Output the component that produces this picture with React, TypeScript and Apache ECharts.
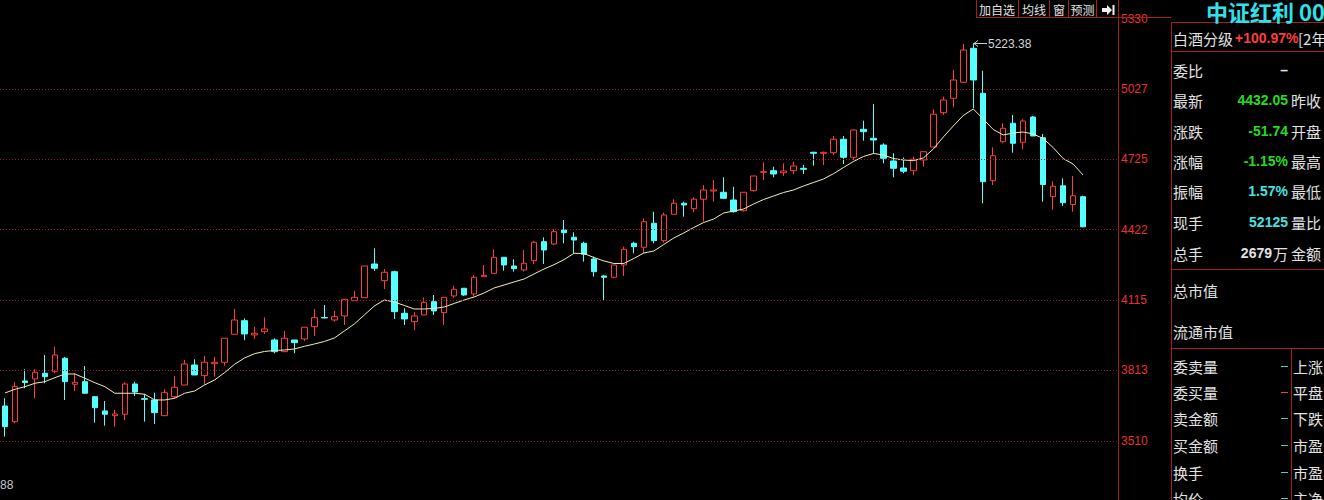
import React, { useEffect, useRef } from 'react';
import * as echarts from 'echarts';

// ---------- data ----------
const opens = [
  3660.2, 3592.6, 3768.0, 3776.6, 3801.1, 3808.0, 3865.8, 3753.7, 3765.0, 3700.3,
  3638.7, 3618.4, 3624.5, 3755.0, 3691.7, 3686.1, 3618.4, 3700.3, 3750.7, 3836.9,
  3790.8, 3842.5, 3848.6, 3969.2, 4027.8, 3966.2, 3980.4, 3944.6, 3894.2, 3944.6,
  3948.9, 4002.0, 4041.6, 4030.8, 4048.1, 4114.0, 4126.9, 4272.1, 4200.2, 4238.9,
  4059.7, 4023.5, 4052.4, 4109.7, 4062.3, 4134.2, 4167.4, 4142.9, 4217.4, 4232.0,
  4301.0, 4263.5, 4246.3, 4286.3, 4368.2, 4358.3, 4418.6, 4387.2, 4361.3, 4293.7,
  4220.4, 4214.8, 4267.8, 4361.3, 4344.1, 4447.5, 4372.5, 4486.3, 4533.7, 4510.4,
  4550.9, 4586.7, 4581.1, 4547.9, 4501.8, 4588.0, 4667.3, 4674.2, 4665.5, 4674.2,
  4684.5, 4753.4, 4749.1, 4751.7, 4809.5, 4731.9, 4852.5, 4813.8, 4784.9, 4716.0,
  4685.8, 4674.2, 4720.3, 4776.3, 4924.1, 4986.1, 5055.1, 5201.6, 5007.7, 4631.1,
  4799.1, 4878.4, 4796.5, 4905.5, 4816.3, 4562.1, 4609.1, 4528.5, 4562.1,
];
const closes = [
  3571.1, 3743.4, 3761.5, 3805.5, 3786.5, 3880.0, 3765.0, 3762.4, 3715.0, 3652.9,
  3624.5, 3625.8, 3755.0, 3720.6, 3689.1, 3631.4, 3717.5, 3740.8, 3841.2, 3793.8,
  3848.6, 3848.6, 3952.0, 4030.8, 3970.5, 3973.5, 3992.0, 3894.2, 3952.0, 3933.0,
  3999.4, 4040.7, 4039.4, 4045.0, 4120.0, 4128.6, 4263.5, 4253.6, 4236.4, 4066.6,
  4035.1, 4048.1, 4107.1, 4069.6, 4128.6, 4163.1, 4138.5, 4214.8, 4223.4, 4301.0,
  4267.8, 4251.9, 4275.1, 4365.6, 4332.4, 4411.3, 4407.0, 4375.5, 4313.9, 4238.9,
  4214.8, 4267.8, 4335.5, 4346.7, 4454.4, 4372.5, 4483.3, 4533.7, 4526.4, 4551.3,
  4591.0, 4591.0, 4555.2, 4497.5, 4581.1, 4651.3, 4669.8, 4659.9, 4672.9, 4694.4,
  4680.2, 4749.1, 4753.4, 4809.5, 4731.9, 4849.5, 4842.2, 4806.4, 4727.6, 4684.5,
  4671.6, 4723.3, 4756.0, 4917.6, 4978.8, 5065.0, 5194.2, 5065.0, 4626.8, 4738.8,
  4856.9, 4792.2, 4888.3, 4823.7, 4614.7, 4606.9, 4536.3, 4566.0, 4432.05,
];
const lows = [
  3528.0, 3585.7, 3736.5, 3693.4, 3758.1, 3801.1, 3686.1, 3724.9, 3715.0, 3588.3,
  3575.4, 3571.1, 3599.9, 3703.3, 3592.6, 3582.7, 3618.4, 3693.4, 3750.7, 3793.8,
  3750.7, 3786.5, 3833.9, 3969.2, 3943.3, 3948.9, 3970.5, 3887.3, 3894.2, 3887.3,
  3940.3, 3961.9, 4038.1, 4023.5, 4009.3, 4114.0, 4126.9, 4242.0, 4164.4, 4035.1,
  4009.3, 3987.7, 4052.4, 4052.4, 4009.3, 4126.9, 4134.2, 4131.2, 4217.4, 4232.0,
  4243.3, 4238.9, 4238.9, 4272.1, 4272.1, 4354.0, 4361.3, 4318.2, 4282.0, 4217.4,
  4114.0, 4210.5, 4220.4, 4318.2, 4318.2, 4361.3, 4363.9, 4486.3, 4476.0, 4495.3,
  4454.4, 4540.6, 4555.2, 4493.2, 4497.5, 4583.7, 4634.1, 4645.7, 4651.3, 4659.9,
  4659.9, 4695.7, 4698.7, 4741.8, 4703.0, 4720.3, 4803.4, 4749.1, 4706.0, 4645.7,
  4663.0, 4654.3, 4691.4, 4776.3, 4914.2, 4947.3, 5055.1, 4943.0, 4533.7, 4612.5,
  4792.2, 4751.7, 4766.4, 4823.7, 4540.6, 4506.1, 4522.0, 4497.5, 4430.0,
];
const highs = [
  3693.4, 3762.4, 3818.4, 3818.4, 3880.0, 3915.8, 3871.4, 3801.1, 3832.6, 3703.3,
  3681.8, 3643.0, 3762.4, 3765.0, 3712.0, 3717.5, 3732.2, 3789.5, 3858.5, 3861.5,
  3875.7, 3872.7, 3952.0, 4078.2, 4038.1, 4002.0, 4042.4, 3952.0, 3983.4, 3944.6,
  3999.4, 4078.2, 4095.5, 4069.6, 4120.0, 4155.8, 4263.5, 4339.8, 4250.6, 4243.3,
  4081.2, 4064.0, 4126.9, 4138.5, 4128.6, 4178.6, 4167.4, 4224.7, 4267.8, 4335.5,
  4301.0, 4292.4, 4332.4, 4371.2, 4387.2, 4421.6, 4461.7, 4408.7, 4368.2, 4303.6,
  4224.7, 4267.8, 4346.7, 4368.2, 4469.0, 4497.5, 4493.2, 4550.9, 4540.6, 4560.0,
  4612.5, 4634.1, 4645.7, 4605.2, 4581.1, 4651.3, 4710.4, 4691.4, 4706.0, 4712.9,
  4698.7, 4756.0, 4756.0, 4823.7, 4823.7, 4852.5, 4889.6, 4961.6, 4792.2, 4749.1,
  4731.0, 4734.5, 4756.0, 4938.7, 4993.0, 5108.1, 5220.1, 5223.38, 5105.1, 4775.0,
  4878.4, 4914.2, 4895.6, 4909.9, 4832.3, 4628.5, 4641.4, 4651.3, 4566.4,
];
const maLine = [
  3716.3, 3732.2, 3743.4, 3758.1, 3765.0, 3782.2, 3798.1, 3798.1, 3779.6, 3760.6,
  3743.4, 3715.0, 3715.0, 3715.0, 3710.7, 3686.1, 3686.1, 3693.4, 3715.0, 3724.9,
  3750.7, 3772.3, 3803.8, 3839.9, 3867.1, 3885.6, 3895.1, 3899.4, 3901.5, 3905.9,
  3917.5, 3927.4, 3938.2, 3953.3, 3983.4, 4013.6, 4052.4, 4091.1, 4117.0, 4108.4,
  4093.3, 4078.2, 4078.2, 4080.4, 4086.8, 4101.9, 4117.0, 4129.9, 4147.2, 4168.7,
  4181.6, 4194.6, 4207.5, 4229.0, 4250.6, 4269.1, 4290.7, 4318.2, 4317.4, 4300.1,
  4285.1, 4274.3, 4274.3, 4295.8, 4319.5, 4328.1, 4356.1, 4384.2, 4405.7, 4429.4,
  4450.9, 4466.0, 4491.9, 4500.5, 4509.1, 4530.7, 4550.1, 4565.1, 4580.2, 4591.0,
  4608.2, 4623.3, 4638.4, 4661.2, 4687.9, 4713.8, 4735.3, 4748.3, 4741.8, 4726.7,
  4720.3, 4717.2, 4728.9, 4767.7, 4819.4, 4866.8, 4912.0, 4940.0, 4896.9, 4851.7,
  4828.0, 4836.6, 4840.9, 4832.3, 4812.9, 4774.1, 4726.7, 4703.0, 4655.6,
];
// 109 candles plus 3 empty slots before the price axis
const categories = Array.from({ length: 112 }, (_, i) => `K${i + 1}`);

const yTickLabels = ['3510', '3813', '4115', '4422', '4725', '5027', '5330'];
const Y_BASE = 3510;
const Y_STEP = 303.3333;
const Y_MIN = 3255;
const Y_MAX = 5330;

const toolButtons = ['加自选', '均线', '窗', '预测'];
const panelTitle = '中证红利 000922';
const headerLabel = '白酒分级';
const headerValue = '+100.97%';
const headerTail = '[2年期';
const quoteLabels = ['委比', '最新', '涨跌', '涨幅', '振幅', '现手', '总手'];
const quoteValues = ['–', '4432.05', '-51.74', '-1.15%', '1.57%', '52125', '2679'];
const quoteKinds = ['plain', 'down', 'down', 'down', 'cyan', 'cyan', 'plain'];
const quoteUnits = ['', '', '', '', '', '', '万'];
const quoteRight = ['', '昨收', '开盘', '最高', '最低', '量比', '金额'];
const capLabels = ['总市值', '流通市值'];
const orderLabels = ['委卖量', '委买量', '卖金额', '买金额', '换手', '均价'];
const orderDashKinds = ['cyan', 'red', 'cyan', 'cyan', 'cyan', 'cyan'];
const orderRight = ['上涨', '平盘', '下跌', '市盈', '市盈', '主净'];
const cornerText = '88';

// ---------- styles ----------
const RED = '#ff3c3c';
const CYAN = '#54ffff';
const GREEN = '#22dd22';
const VAL_CYAN = '#45e3e3';
const FRAME = '#a41e1e';
const GRID_DOT = '#9a1e1e';
const TEXT = '#e2e2e2';
const CJK = '"Noto Sans CJK SC", "Noto Sans", sans-serif';
const NUM = '"Liberation Sans", Arial, sans-serif';

const kindColor = (k: string) =>
  k === 'down' ? GREEN : k === 'cyan' ? VAL_CYAN : k === 'red' ? RED : TEXT;

const txt = (x: number, y: number, text: string, fill: string, font: string, align = 'left') => ({
  type: 'text',
  x,
  y,
  silent: true,
  z: 100,
  style: { text, fill, font, align, verticalAlign: 'middle', textAlign: align, textVerticalAlign: 'middle' },
});
const ln = (x1: number, y1: number, x2: number, y2: number, stroke: string) => ({
  type: 'line',
  silent: true,
  z: 100,
  shape: { x1, y1, x2, y2 },
  style: { stroke, lineWidth: 1 },
});

function buildStaticGraphics() {
  const g: any[] = [];
  // toolbar buttons
  g.push({
    type: 'rect',
    silent: true,
    z: 99,
    shape: { x: 976.5, y: -1, width: 142, height: 18.5 },
    style: { fill: '#000', stroke: FRAME, lineWidth: 1 },
  });
  g.push(ln(976, 17.5, 1171, 17.5, FRAME));
  [1018.5, 1049.5, 1068.5, 1096.5].forEach((x) => g.push(ln(x, 0, x, 17.5, FRAME)));
  const centers = [997, 1034, 1059, 1082.5];
  toolButtons.forEach((b, i) => g.push(txt(centers[i], 9, b, TEXT, `12px ${CJK}`, 'center')));
  g.push({
    type: 'polygon',
    silent: true,
    z: 100,
    shape: { points: [[1102, 8], [1107, 8], [1107, 5], [1112, 10], [1107, 15], [1107, 12], [1102, 12]] },
    style: { fill: '#f0f0f0' },
  });
  g.push({ type: 'rect', silent: true, z: 100, shape: { x: 1112.5, y: 5, width: 2, height: 10 }, style: { fill: '#f0f0f0' } });

  // right panel frame
  g.push(ln(1171.5, 22.5, 1171.5, 500, FRAME));
  [22.5, 51.5, 269.5, 348.5].forEach((y) => g.push(ln(1171, y, 1324, y, FRAME)));
  g.push(ln(1291.5, 348.5, 1291.5, 500, FRAME));

  // title
  g.push(txt(1206, 11, panelTitle, '#30e0ea', `bold 22px ${CJK}`));

  // header row
  g.push(txt(1173, 38, headerLabel, TEXT, `15px ${CJK}`));
  g.push(txt(1235, 38, headerValue, RED, `bold 14px ${NUM}`));
  g.push(txt(1298, 38, headerTail, TEXT, `15px ${CJK}`));

  // quote rows
  const quoteY = [70, 100, 131, 161, 191, 222, 253];
  quoteLabels.forEach((lab, i) => {
    const y = quoteY[i];
    g.push(txt(1173, y, lab, TEXT, `15px ${CJK}`));
    const unit = quoteUnits[i];
    const valRight = unit ? 1272 : 1288;
    g.push(txt(valRight, y, quoteValues[i], kindColor(quoteKinds[i]), `bold 14px ${NUM}`, 'right'));
    if (unit) g.push(txt(1288, y, unit, TEXT, `15px ${CJK}`, 'right'));
    if (quoteRight[i]) g.push(txt(1291, y, quoteRight[i], TEXT, `15px ${CJK}`));
  });

  // market cap rows
  [290, 331].forEach((y, i) => g.push(txt(1173, y, capLabels[i], TEXT, `15px ${CJK}`)));

  // order rows
  const orderY = [366, 392, 418, 445, 472, 498];
  orderLabels.forEach((lab, i) => {
    const y = orderY[i];
    g.push(txt(1173, y, lab, TEXT, `15px ${CJK}`));
    g.push(ln(1281, y + 0.5, 1288, y + 0.5, orderDashKinds[i] === 'red' ? RED : '#3ed8c8'));
    g.push(txt(1293, y, orderRight[i], TEXT, `15px ${CJK}`));
  });

  // bottom-left residual label
  g.push(txt(0, 485, cornerText, '#c8c8c8', `12px ${NUM}`));
  return g;
}

export default function App() {
  const ref = useRef<HTMLDivElement>(null);

  useEffect(() => {
    if (!ref.current) return;
    const chart = echarts.init(ref.current, null, { renderer: 'svg' });

    const candleData = opens.map((o, i) => [o, closes[i], lows[i], highs[i]]);
    const levelMarks = yTickLabels.map((label, k) => {
      const item: any = { yAxis: Y_BASE + k * Y_STEP, label: { formatter: label } };
      if (k === yTickLabels.length - 1) item.lineStyle = { color: 'rgba(0,0,0,0)' };
      return item;
    });

    chart.setOption({
      animation: false,
      backgroundColor: '#000000',
      grid: { left: -1, right: 206, top: 18.5, bottom: 0, containLabel: false },
      xAxis: {
        type: 'category',
        data: categories,
        boundaryGap: true,
        axisLine: { show: false },
        axisTick: { show: false },
        axisLabel: { show: false },
        splitLine: { show: false },
      },
      yAxis: {
        type: 'value',
        position: 'right',
        min: Y_MIN,
        max: Y_MAX,
        axisLine: { show: true, lineStyle: { color: FRAME, width: 1 } },
        axisTick: { show: false },
        axisLabel: { show: false },
        splitLine: { show: false },
      },
      series: [
        {
          type: 'candlestick',
          data: candleData,
          barWidth: 6,
          silent: true,
          itemStyle: {
            color: '#000000',
            color0: CYAN,
            borderColor: RED,
            borderColor0: CYAN,
            borderWidth: 1,
          },
          markLine: {
            silent: true,
            symbol: 'none',
            animation: false,
            lineStyle: { type: [1, 2], color: GRID_DOT, width: 1 },
            label: {
              show: true,
              position: 'end',
              distance: 3,
              color: '#e8302e',
              fontSize: 12,
              fontFamily: NUM,
            },
            data: levelMarks,
          },
        },
        {
          type: 'line',
          data: maLine,
          symbol: 'none',
          silent: true,
          z: 3,
          lineStyle: { color: '#f2eeb8', width: 1 },
        },
      ],
    });

    // marker at the highest high
    let hi = 0;
    highs.forEach((h, i) => {
      if (h > highs[hi]) hi = i;
    });
    const p = chart.convertToPixel({ gridIndex: 0 }, [hi, highs[hi]]) as number[];
    const mx = Math.round(p[0]) + 1;
    const my = Math.round(p[1]) + 0.5;
    const marker = [
      ln(mx, my, mx + 13, my, '#cfcfcf'),
      {
        type: 'polyline',
        silent: true,
        z: 100,
        shape: { points: [[mx + 4, my - 3], [mx, my], [mx + 4, my + 3]] },
        style: { stroke: '#cfcfcf', lineWidth: 1, fill: 'none' },
      },
      txt(mx + 14, my, highs[hi].toFixed(2), '#d4d4d4', `12px ${NUM}`),
    ];

    chart.setOption({ graphic: [...buildStaticGraphics(), ...marker] });

    return () => chart.dispose();
  }, []);

  return (
    <div
      ref={ref}
      style={{ position: 'fixed', left: 0, top: 0, width: 1324, height: 500, background: '#000' }}
    />
  );
}
